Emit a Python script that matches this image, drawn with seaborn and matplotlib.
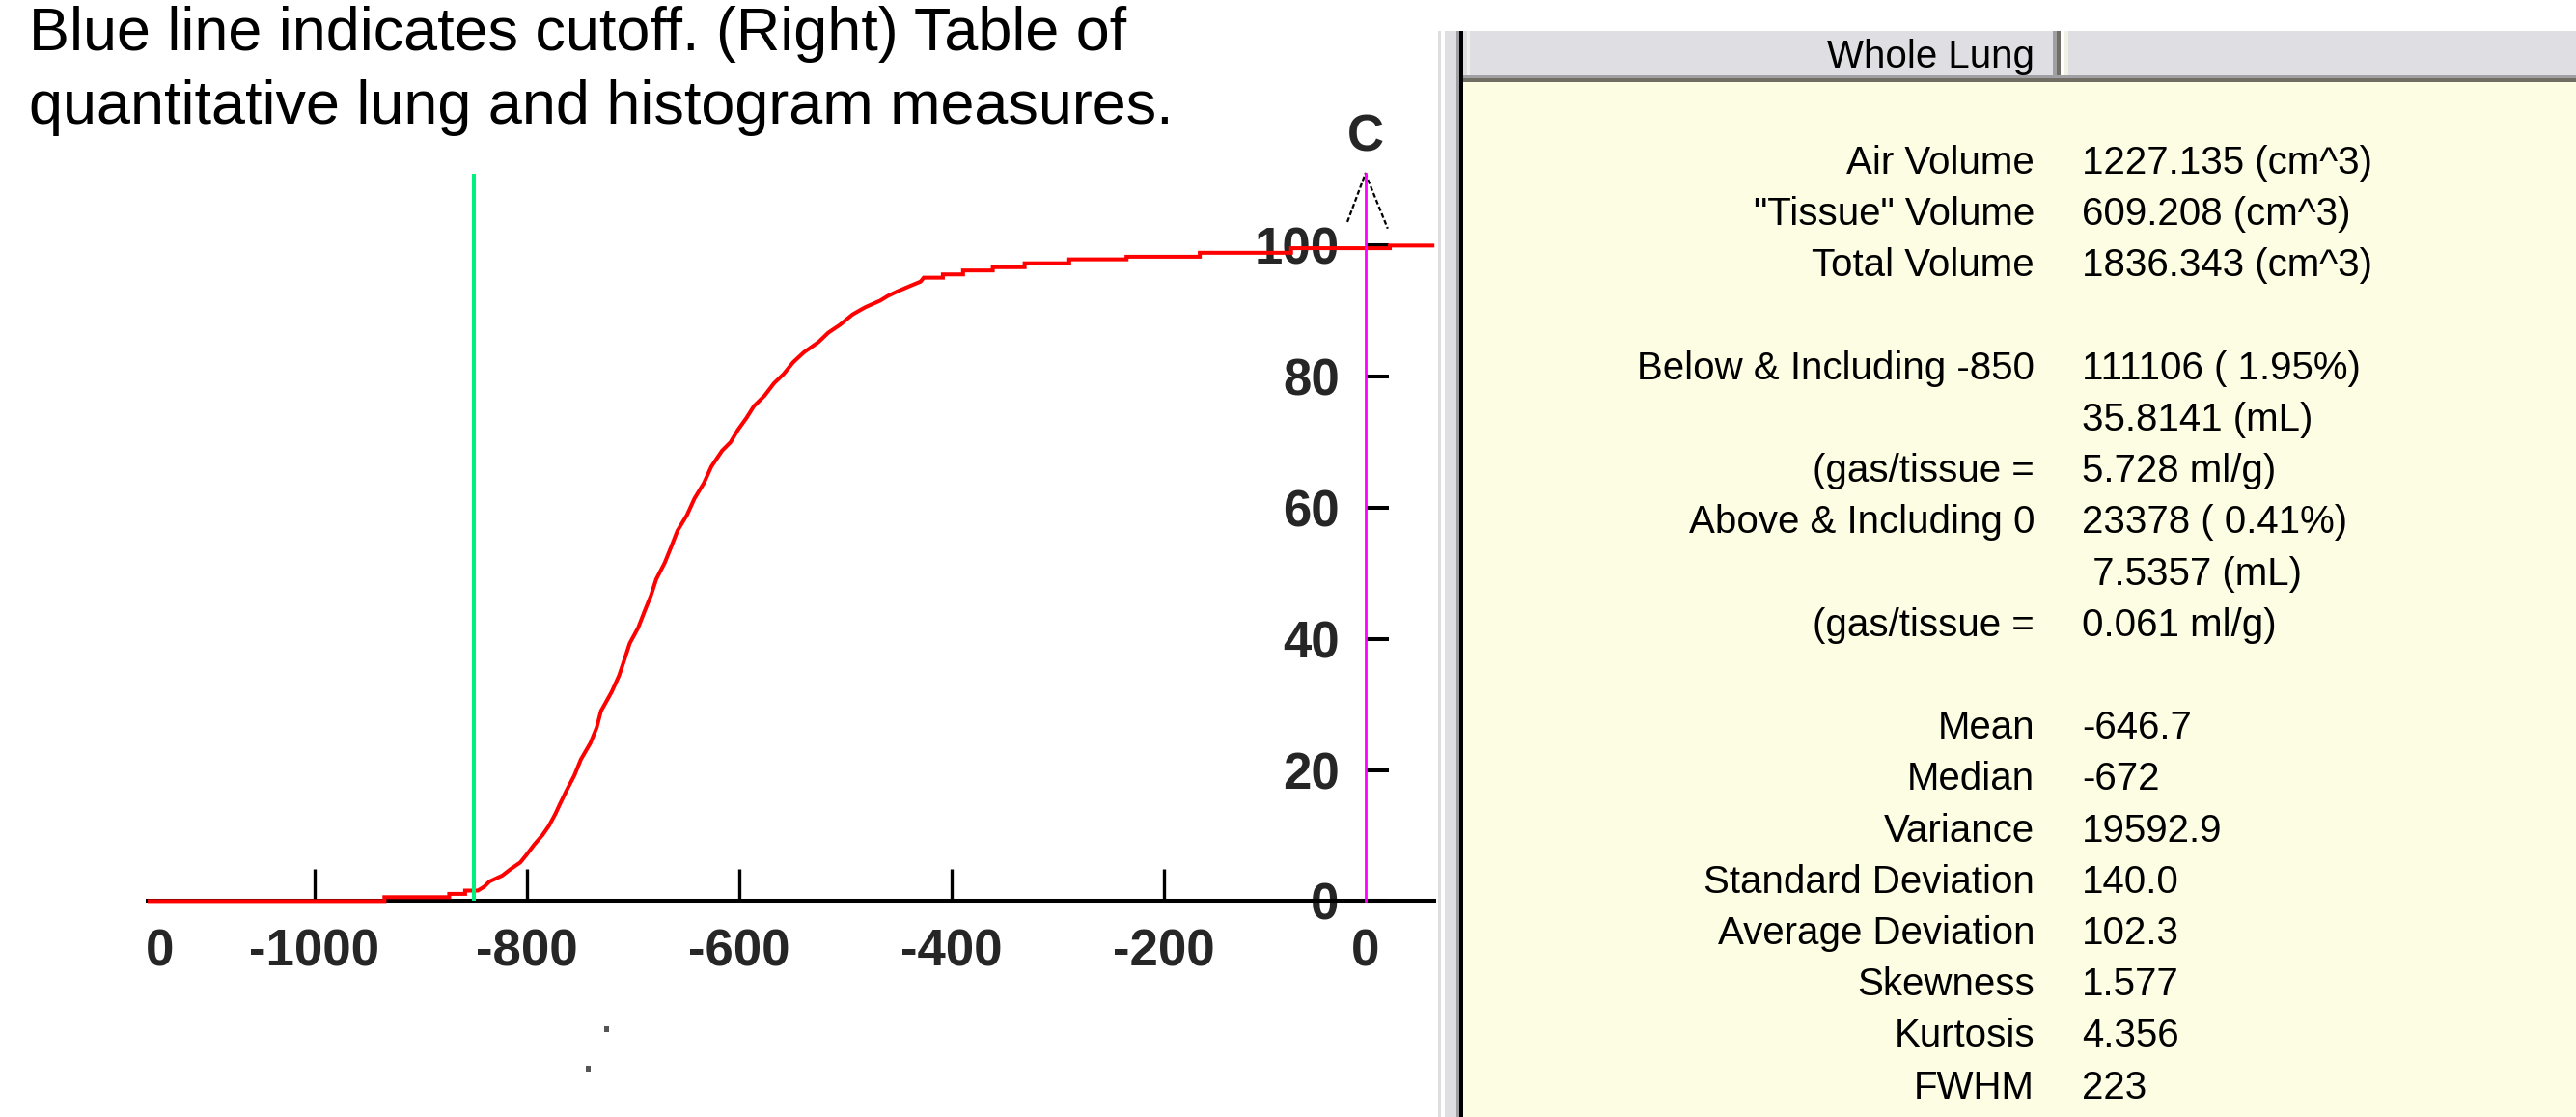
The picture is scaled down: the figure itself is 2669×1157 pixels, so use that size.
import matplotlib
matplotlib.use("Agg")
import matplotlib.pyplot as plt
from matplotlib.patches import Rectangle
from matplotlib.transforms import Affine2D
import seaborn as sns

# ---- data -------------------------------------------------------------
# cumulative lung-voxel percentage vs. Hounsfield units; flat stretches are
# given by both of their end points so the line keeps its stair shape there
hu_pts = [-1157, -934, -934, -873, -873, -858, -858, -846,
          -840, -835, -823, -815, -806, -800, -793, -785, -779, -773,
          -769, -763, -755, -749, -740, -734, -730, -720, -713, -708,
          -703, -695, -689, -683, -678, -670, -664, -658, -649, -642,
          -633, -626, -616, -608, -601, -593, -586, -576, -567, -558,
          -549, -539, -525, -516, -505, -493, -481, -467, -460, -451,
          -438, -429, -426,
          -408, -408, -389, -389, -361, -361, -331, -331, -289, -289,
          -235, -235, -166, -166, -80, -80, 13, 13, 55]
cum_pct = [0, 0, 0.6, 0.6, 1.1, 1.1, 1.6, 1.6,
           2.2, 3.0, 3.9, 4.9, 5.9, 7.1, 8.6, 10.1, 11.5, 13.3,
           14.7, 16.7, 19.2, 21.6, 24.1, 26.5, 29.0, 31.9, 34.4, 36.8,
           39.3, 41.7, 44.2, 46.6, 49.1, 51.6, 54.0, 56.5, 58.9, 61.4,
           63.8, 66.3, 68.7, 70.0, 71.9, 73.7, 75.5, 77.1, 79.0, 80.4,
           82.2, 83.7, 85.3, 86.7, 87.9, 89.5, 90.6, 91.6, 92.3, 93.0,
           93.9, 94.5, 95.1,
           95.1, 95.6, 95.6, 96.2, 96.2, 96.7, 96.7, 97.3, 97.3, 97.9,
           97.9, 98.3, 98.3, 98.9, 98.9, 99.6, 99.6, 100, 100]

cutoff_hu = -850
x_ticks = [-1000, -800, -600, -400, -200]
x_tick_labels = ["-1000", "-800", "-600", "-400", "-200"]
y_ticks = [0, 20, 40, 60, 80, 100]
y_tick_labels = ["0", "20", "40", "60", "80", "100"]

caption_lines = ["Blue line indicates cutoff. (Right) Table of",
                 "quantitative lung and histogram measures."]

table_title = "Whole Lung"
table_labels = ["Air Volume", "\"Tissue\" Volume", "Total Volume", "",
                "Below & Including -850", "", "(gas/tissue =",
                "Above & Including 0", "", "(gas/tissue =", "",
                "Mean", "Median", "Variance", "Standard Deviation",
                "Average Deviation", "Skewness", "Kurtosis", "FWHM"]
table_values = ["1227.135 (cm^3)", "609.208 (cm^3)", "1836.343 (cm^3)", "",
                "111106 ( 1.95%)", "35.8141 (mL)", "5.728 ml/g)",
                "23378 ( 0.41%)", " 7.5357 (mL)", "0.061 ml/g)", "",
                "-646.7", "-672", "19592.9", "140.0",
                "102.3", "1.577", "4.356", "223"]

# ---- style ------------------------------------------------------------
sns.set_theme(style="white")
plt.rcParams["font.family"] = ["Liberation Sans", "DejaVu Sans"]

W, H = 2669, 1157
fig = plt.figure(figsize=(W / 100, H / 100), dpi=100)
fig.patch.set_facecolor("white")
# pixel coordinates measured from the top-left corner
px = Affine2D().scale(1 / W, -1 / H).translate(0, 1) + fig.transFigure

# ---- cumulative histogram plot -----------------------------------------
ax = fig.add_axes([153 / W, 1 - 960 / H, (1486 - 153) / W, 810 / H])
ax.patch.set_visible(False)
ax.set_xlim(-1157, 54.8)
ax.set_ylim(-3.92, 115.37)

yaxis_hu = -10       # where the vertical axis crosses
axis_top = 111       # top of the vertical axis / cutoff line

sns.lineplot(x=hu_pts, y=cum_pct, ax=ax, color="#FF0000", linewidth=2.9,
             estimator=None, zorder=3, clip_on=False,
             solid_capstyle="butt", solid_joinstyle="miter")

ax.vlines(cutoff_hu, 0, axis_top, color="#00F080", linewidth=2.9,
          zorder=3.5, clip_on=False)

for side in ("top", "right"):
    ax.spines[side].set_visible(False)
ax.spines["bottom"].set_position(("data", 0))
ax.spines["bottom"].set_color("black")
ax.spines["bottom"].set_linewidth(2.9)
ax.spines["left"].set_position(("data", yaxis_hu))
ax.spines["left"].set_bounds(0, axis_top)
ax.spines["left"].set_color("#FF00FF")
ax.spines["left"].set_linewidth(2.0)
ax.spines["left"].set_zorder(4)

label_font = dict(fontsize=38, fontweight="bold", family=["Liberation Sans", "DejaVu Sans"])

ax.set_xticks(x_ticks)
ax.set_xticklabels(x_tick_labels, **label_font)
ax.set_xticks([-1146, yaxis_hu], labels=["0", "0"], minor=True, **label_font)
ax.tick_params(axis="x", which="major", direction="in", length=23.8,
               width=2.4, color="black", pad=20, bottom=True)
ax.tick_params(axis="x", which="minor", length=0, pad=20, bottom=True)

ax.set_yticks(y_ticks)
ax.set_yticklabels(y_tick_labels, **label_font)
ax.tick_params(axis="y", which="major", direction="in", length=17.3,
               width=2.9, color="black", pad=19.5, left=True)
ax.grid(False)
ax.set_xlabel("")
ax.set_ylabel("")

# dashed arrowhead at the top of the vertical axis, and its "C" label
ax.plot([yaxis_hu - 17, yaxis_hu, yaxis_hu + 21],
        [axis_top - 7.4, axis_top, axis_top - 8.4],
        color="black", linewidth=1.6, linestyle=(0, (2.2, 1.2)),
        clip_on=False, zorder=4)
ax.text(yaxis_hu, axis_top + 5.5, "C", ha="center", va="center",
        clip_on=False, **label_font)

# two stray specks beneath the axis
for sx, sy in [(626, 1063), (607, 1104)]:
    fig.add_artist(Rectangle((sx, sy), 5, 6, transform=px,
                             color="#555555", lw=0))

# ---- caption ----------------------------------------------------------
for i, line in enumerate(caption_lines):
    fig.text(30, 52 + 76 * i, line, transform=px, fontsize=45.3,
             ha="left", va="baseline", color="black")

# ---- statistics panel -------------------------------------------------
def box(x0, y0, x1, y1, color):
    fig.add_artist(Rectangle((x0, y0), x1 - x0, y1 - y0, transform=px,
                             color=color, lw=0, zorder=1))

box(1490, 32, 1493, H, "#DEDEE2")
box(1497, 32, 1509, H, "#DFDFE3")
box(1509, 32, 1512, H, "#A0A0A4")
box(1512, 32, 1516, H, "#000000")
box(1516, 85, W, H, "#FDFDE4")
box(1516, 32, W, 78, "#DFDFE3")
box(1520, 32, 1523, 78, "#F0F0E6")
box(2127, 32, 2131, 78, "#A0A0A4")
box(2131, 32, 2135, 81, "#716F64")
box(2135, 32, 2139, 78, "#FFFFFF")
box(2139, 32, 2143, 78, "#F0F0E6")
box(1516, 78, W, 81, "#A0A0A4")
box(1516, 81, W, 85, "#716F64")

table_font = dict(fontsize=29, color="black", transform=px, va="baseline")
fig.text(2108, 70, table_title, ha="right", **table_font)
for i, (lab, val) in enumerate(zip(table_labels, table_values)):
    yb = 180 + 53.2 * i
    if lab:
        fig.text(2108, yb, lab, ha="right", **table_font)
    if val:
        fig.text(2157, yb, val, ha="left", **table_font)

fig.savefig("out.png", dpi=100)
